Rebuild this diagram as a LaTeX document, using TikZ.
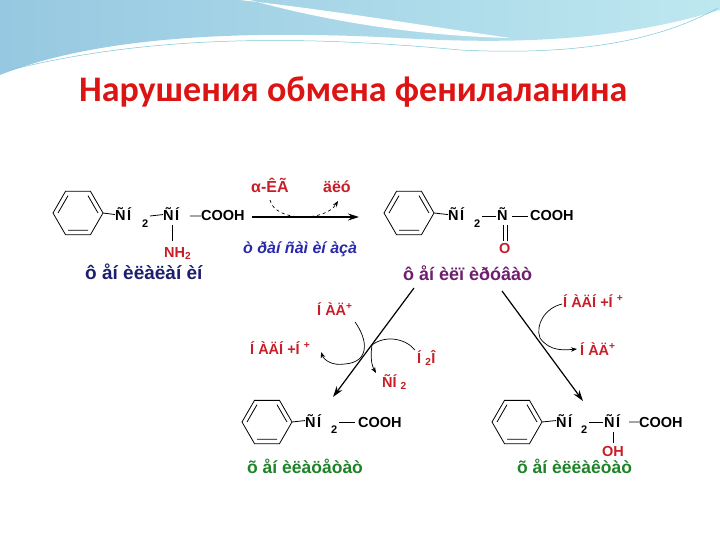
\documentclass[tikz,border=0pt]{standalone}
\usepackage{fontspec}
\setmainfont{Liberation Sans}
\newfontfamily\titlefont{Carlito}
\usetikzlibrary{arrows.meta}
\definecolor{tred}{RGB}{220,20,20}
\definecolor{cred}{RGB}{200,30,40}
\definecolor{navy}{RGB}{30,30,110}
\definecolor{purp}{RGB}{110,30,110}
\definecolor{grn}{RGB}{30,130,40}
\definecolor{bl}{RGB}{40,40,170}
\definecolor{wave}{RGB}{120,200,215}
\definecolor{ban1}{RGB}{150,200,225}
\definecolor{ban2}{RGB}{190,232,240}
\newcommand\CH{Ñ\hspace{1.5pt}Í}
\tikzset{
 chem/.style={inner sep=0pt,font=\bfseries\fontsize{14.5}{16}\selectfont,anchor=base west},
 rlab/.style={chem,text=cred,font=\bfseries\fontsize{14.5}{16}\selectfont},
 lbl/.style={inner sep=0pt,font=\bfseries\fontsize{17.5}{20}\selectfont,anchor=base west},
 bond/.style={line width=0.8pt},
 rxn/.style={line width=1.2pt,-{Stealth[length=11pt,width=7pt]}},
 curv/.style={line width=0.7pt,-{Stealth[length=6pt,width=4.5pt]}},
}
\newcommand\benz[2]{%
 \draw[bond] (#1,#2) ++(0:25) -- ++(120:25) -- ++(180:25) -- ++(240:25) -- ++(300:25) -- ++(0:25) -- cycle;
 \draw[bond] (#1,#2) ++(60:20) -- ++(180:20)  (#1,#2) ++(180:20) -- ++(300:20) (#1,#2) ++(300:20) -- ++(60:20);
}
\begin{document}
\begin{tikzpicture}[x=1pt,y=-1pt]
\useasboundingbox (0,0) rectangle (720,540);
\fill[white] (0,0) rectangle (720,540);
% banner
\shade[left color=ban1, right color=ban2]
 (0,0) -- (720,0) -- (720,10) .. controls (620,40) and (520,45) .. (400,38) .. controls (250,30) and (100,35) .. (0,75) -- cycle;
\fill[white] (240,0) .. controls (330,10) and (420,25) .. (510,38) .. controls (420,36) and (330,22) .. (250,0) -- cycle;
\draw[wave,line width=0.5pt] (10,70) .. controls (150,35) and (300,35) .. (460,50) .. controls (580,56) and (660,40) .. (718,8);
\node[inner sep=0pt,anchor=base west,text=tred,font=\titlefont\bfseries\fontsize{36}{40}\selectfont] (title) at (79,102) {Нарушения обмена фенилаланина};
% molecule 1
\benz{78}{213}
\node[chem] (a1) at (115,221) {\CH};
\node[chem] (a2) at (142,228) {\fontsize{11}{12}\selectfont 2};
\node[chem] (a3) at (163,221) {\CH};
\node[chem] (a4) at (201,221) {COOH};
\draw[bond] (103,213) -- (a1.west);
\draw[bond] (150,216) -- (a3.west);
\draw[bond] (190,216) -- (a4.west);
\node[chem,text=cred] (nh2) at (164,257) {NH\textsubscript{2}};
\draw[bond] (172,225) -- (172,241);
\node[lbl,text=navy,font=\bfseries\fontsize{19}{21}\selectfont] (l1) at (85,279) {ô åí èëàëàí èí};
% reaction 1
\coordinate (r1a) at (252,217); \coordinate (r1b) at (359,217);
\draw[rxn] (r1a) -- (r1b);
\node[chem,text=cred,font=\bfseries\fontsize{16}{18}\selectfont] (aKG) at (251,193) {α-ÊÃ};
\node[chem,text=cred,font=\bfseries\fontsize{16}{18}\selectfont] (glu) at (323,193) {äëó};
\draw[curv,dashed] (270,200) .. controls (275,222) and (325,222) .. (338,201);
\node[chem,text=bl,font=\bfseries\itshape\fontsize{16}{18}\selectfont] (tr) at (243,253) {ò ðàí ñàì èí àçà};
% molecule 2
\benz{409}{213}
\node[chem] (b1) at (448,221) {\CH};
\node[chem] (b2) at (474,228) {\fontsize{11}{12}\selectfont 2};
\node[chem] (b3) at (497,221) {Ñ};
\node[chem] (b4) at (530,221) {COOH};
\draw[bond] (434,213) -- (b1.west);
\draw[bond] (482,216) -- (496,216);
\draw[bond] (512,216) -- (528,216);
\draw[bond] (503,225) -- (503,241) (507,225) -- (507,241);
\node[chem,text=cred] (o) at (499,254) {O};
\node[lbl,text=purp,font=\bfseries\fontsize{18}{20}\selectfont] (l2) at (403,280) {ô åí èëï èðóâàò};
% branch arrows
\coordinate (p1) at (414,288); \coordinate (p2) at (333,397);
\draw[rxn] (p1) -- (p2);
\coordinate (q1) at (502,291); \coordinate (q2) at (583,401);
\draw[rxn] (q1) -- (q2);
\node[rlab] (nad1) at (317,315) {\'I ÀÄ\textsuperscript{+}};
\node[rlab] (nadh1) at (250,354) {\'I ÀÄ\'I +\'I \textsuperscript{+}};
\node[rlab] (h2o) at (417,363) {\'I \textsubscript{2}Î};
\node[rlab] (nh3) at (382,387) {ÑÍ \textsubscript{2}};
\draw[curv] (355,322) .. controls (368,340) and (370,362) .. (345,364) .. controls (332,366) and (324,360) .. (321,352);
\draw[curv] (415,350) .. controls (405,338) and (385,335) .. (372,345) .. controls (370,358) and (372,366) .. (376,373);
\node[rlab] (nad2) at (563,307) {\'I ÀÄ\'I +\'I \textsuperscript{+}};
\node[rlab] (nadp2) at (580,355) {\'I ÀÄ\textsuperscript{+}};
\draw[curv] (562,304) .. controls (545,308) and (535,325) .. (540,338) .. controls (550,352) and (565,350) .. (577,349);
% molecule 3
\benz{267}{422}
\node[chem] (c1) at (305,427) {\CH};
\node[chem] (c2) at (331,433) {\fontsize{11}{12}\selectfont 2};
\node[chem] (c3) at (358,427) {COOH};
\draw[bond] (292,422) -- (c1.west);
\draw[bond] (339,422) -- (355,422);
\node[lbl,text=grn] (l3) at (247,473) {õ åí èëàöåòàò};
% molecule 4
\benz{517}{422}
\node[chem] (d1) at (556,427) {\CH};
\node[chem] (d2) at (581,433) {\fontsize{11}{12}\selectfont 2};
\node[chem] (d3) at (604,427) {\CH};
\node[chem] (d4) at (639,427) {COOH};
\draw[bond] (542,422) -- (d1.west);
\draw[bond] (589,422) -- (603,422);
\draw[bond] (629,422) -- (d4.west);
\draw[bond] (613,432) -- (613,443);
\node[chem,text=cred] (oh) at (602,456) {OH};
\node[lbl,text=grn] (l4) at (517,473) {õ åí èëëàêòàò};
\end{tikzpicture}
\end{document}
